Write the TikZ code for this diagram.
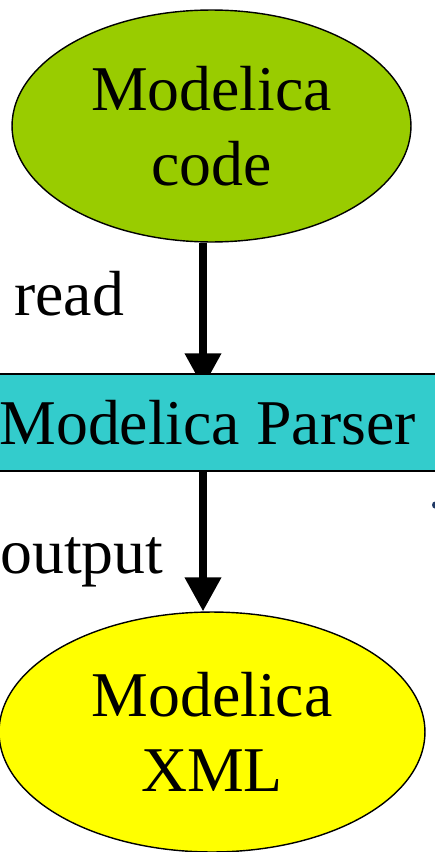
\documentclass[tikz,border=0pt]{standalone}
\usepackage{fontspec}
\setmainfont{Liberation Serif}
\usetikzlibrary{arrows.meta,shapes.geometric,backgrounds}
\definecolor{codegreen}{HTML}{99CC00}
\definecolor{parsercyan}{HTML}{33CCCC}
\definecolor{xmlyellow}{HTML}{FFFF00}
\definecolor{navy}{HTML}{1F3864}

\begin{document}
\begin{tikzpicture}[x=0.02cm, y=-0.02cm,
	every node/.style={font=\fontsize{36.3}{42.5}\selectfont},
	blob/.style={ellipse, draw, line width=0.8pt, align=center, inner sep=0pt},
	flow/.style={line width=4.1pt, arrows={-Triangle[width=0.7cm, length=0.68cm]}}]
	\useasboundingbox (0,0) rectangle (435,852);
	\coordinate (axis) at (203,0);
	\node[blob, fill=codegreen, minimum width=7.98cm, minimum height=4.64cm] (code) at (211.5,126) {Modelica\\code};
	\node[draw, line width=0.8pt, fill=parsercyan, minimum width=9.4cm, minimum height=1.94cm, inner sep=0pt] (parser) at (207.5,422.5) {Modelica Parser};
	\node[blob, fill=xmlyellow, minimum width=8.52cm, minimum height=4.8cm] (xml) at (212,732) {Modelica\\XML};
	\node[anchor=base west, inner sep=0pt] (read) at (14,315) {read};
	\node[anchor=base west, inner sep=0pt] (output) at (0,573) {output};
	% arrows go under the boxes
	\begin{scope}[on background layer]
		\draw[flow, shorten >=-0.28cm] (code.south -| axis) -- (parser.north -| axis);
		\draw[flow] (parser.south -| axis) -- (xml.north -| axis);
	\end{scope}
	\fill[navy] (435,505) ellipse [x radius=3, y radius=3.5];
\end{tikzpicture}
\end{document}
